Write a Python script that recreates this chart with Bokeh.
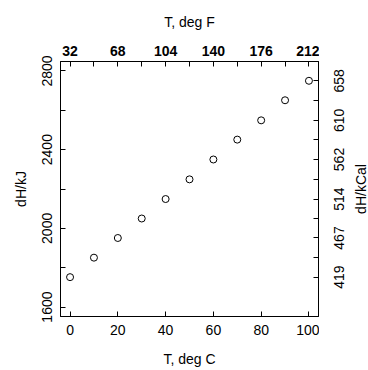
import math
from bokeh.plotting import figure
from bokeh.layouts import row
from bokeh.models import LinearAxis, FixedTicker, Range1d
from bokeh.core.properties import value
from bokeh.embed import file_html
from bokeh.resources import INLINE

# data
temp_c = [0, 10, 20, 30, 40, 50, 60, 70, 80, 90, 100]
dh_kj = [1752, 1851, 1951, 2050, 2149, 2249, 2350, 2451, 2549, 2651, 2750]

bottom_ticks = [0, 20, 40, 60, 80, 100]
top_ticks = [0, 10, 20, 30, 40, 50, 60, 70, 80, 90, 100]
top_labels = ["32", "", "68", "", "104", "", "140", "", "176", "", "212"]
left_ticks = [1600, 1800, 2000, 2200, 2400, 2600, 2800]
left_labels = ["1600", "", "2000", "", "2400", "", "2800"]
right_labels = ["419", "", "467", "", "514", "", "562", "", "610", "", "658"]

FONT = "Liberation Sans"
FS = "14px"

yr = Range1d(1552, 2848)

p = figure(width=319, height=370, output_backend="svg", toolbar_location=None,
           x_range=Range1d(-4, 104), y_range=yr,
           min_border_left=60, min_border_right=1, min_border_top=61, min_border_bottom=54,
           x_axis_location=None, y_axis_location=None)
p.xgrid.visible = False
p.ygrid.visible = False
p.outline_line_color = "black"
p.outline_line_width = 1
p.background_fill_color = "white"
p.border_fill_color = "white"

p.scatter(temp_c, dh_kj, marker="circle", size=7, fill_color=None,
          line_color="black", line_width=1)


def style(ax, label, standoff, label_standoff, bold=False):
    ax.axis_label = label
    ax.axis_label_text_font = FONT
    ax.axis_label_text_font_size = FS
    ax.axis_label_text_font_style = "normal"
    ax.axis_label_text_color = "black"
    ax.axis_label_standoff = label_standoff
    ax.major_label_text_font = FONT
    ax.major_label_text_font_size = FS
    ax.major_label_text_font_style = "bold" if bold else "normal"
    ax.major_label_text_color = "black"
    ax.major_label_standoff = standoff
    ax.major_tick_in = 5
    ax.major_tick_out = 0
    ax.minor_tick_in = 0
    ax.minor_tick_out = 0
    ax.axis_line_color = "black"
    ax.major_tick_line_color = "black"


bottom = LinearAxis(ticker=FixedTicker(ticks=bottom_ticks))
style(bottom, "T, deg C", 8, 13)
p.add_layout(bottom, "below")

top = LinearAxis(ticker=FixedTicker(ticks=top_ticks),
                 major_label_overrides={t: l for t, l in zip(top_ticks, top_labels)})
style(top, "T, deg F", 6, 13, bold=True)
p.add_layout(top, "above")

left = LinearAxis(ticker=FixedTicker(ticks=left_ticks),
                  major_label_overrides={t: l for t, l in zip(left_ticks, left_labels)})
style(left, "dH/kJ", 8, 11)
left.major_label_orientation = "vertical"
p.add_layout(left, "left")

# right axis: tick marks only
right = LinearAxis(ticker=FixedTicker(ticks=dh_kj),
                   major_label_overrides={t: "" for t in dh_kj})
style(right, None, 0, 0)
p.add_layout(right, "right")

# side strip sharing the y scale, holding the upward-reading kcal labels
q = figure(width=49, height=370, output_backend="svg", toolbar_location=None,
           x_range=Range1d(0, 49), y_range=yr,
           min_border_left=0, min_border_right=0, min_border_top=61, min_border_bottom=54,
           x_axis_location=None, y_axis_location=None)
q.xgrid.visible = False
q.ygrid.visible = False
q.outline_line_color = None
q.background_fill_color = "white"
q.border_fill_color = "white"

q.text(x=[19] * len(dh_kj), y=dh_kj, text=right_labels, angle=math.pi / 2,
       text_align="center", text_baseline="middle",
       text_font=value(FONT), text_font_size=value(FS), text_color="black")
q.text(x=[41], y=[(yr.start + yr.end) / 2], text=["dH/kCal"], angle=math.pi / 2,
       text_align="center", text_baseline="middle",
       text_font=value(FONT), text_font_size=value(FS), text_color="black")

layout = row(p, q, spacing=0)
open("out.html", "w").write(file_html(layout, INLINE))
